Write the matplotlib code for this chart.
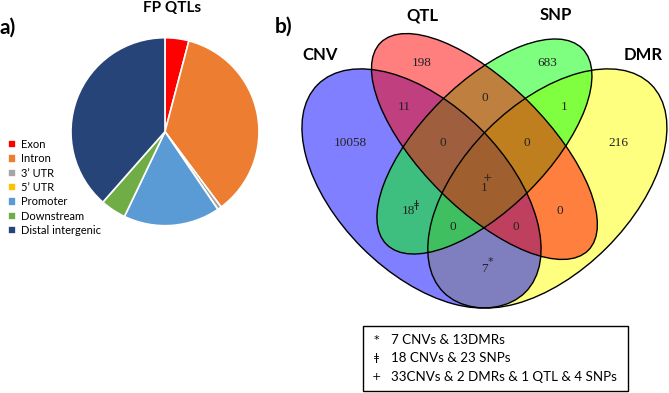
import matplotlib.pyplot as plt
from matplotlib.patches import Ellipse, Rectangle

# a) genomic annotation of FP QTLs (% of QTLs)
pie_labels = ['Exon', 'Intron', '3\u2019 UTR', '5\u2019 UTR', 'Promoter', 'Downstream', 'Distal intergenic']
pie_values = [4.1, 35.7, 0.7, 0.0, 16.6, 4.4, 38.5]
pie_colors = ['#ff0000', '#ed7d31', '#a5a5a5', '#ffc000', '#5b9bd5', '#70ad47', '#264478']

# b) overlap counts between the four sets
set_names = ['CNV', 'QTL', 'SNP', 'DMR']
set_colors = ['#0000ff', '#ff0000', '#00ff00', '#ffff00']
region_keys = ['CNV', 'QTL', 'SNP', 'DMR', 'CNV&QTL', 'QTL&SNP', 'SNP&DMR',
               'CNV&QTL&SNP', 'QTL&SNP&DMR', 'ALL', 'CNV&SNP', 'QTL&DMR',
               'CNV&SNP&DMR', 'CNV&QTL&DMR', 'CNV&DMR']
region_counts = [10058, 198, 683, 216, 11, 0, 1, 0, 0, 1, 18, 0, 0, 0, 7]
note_marks = ['*', '\u01c2', '+']
note_texts = ['7 CNVs & 13DMRs', '18 CNVs & 23 SNPs', '33CNVs & 2 DMRs & 1 QTL & 4 SNPs']

# quad venn layout (x, y, semi-axis a, semi-axis b, angle), unit square
ellipse_geom = {
    'CNV': (0.35, 0.47, 0.35, 0.20, 135),
    'DMR': (0.65, 0.47, 0.35, 0.20, 45),
    'QTL': (0.50, 0.57, 0.35, 0.15, 135),
    'SNP': (0.50, 0.57, 0.33, 0.15, 45),
}
label_pos = {
    'CNV': (0.18, 0.578), 'QTL': (0.35, 0.768), 'SNP': (0.65, 0.768), 'DMR': (0.82, 0.578),
    'CNV&QTL': (0.31, 0.665), 'QTL&SNP': (0.50, 0.686), 'SNP&DMR': (0.69, 0.665),
    'CNV&QTL&SNP': (0.40, 0.578), 'QTL&SNP&DMR': (0.60, 0.578), 'ALL': (0.50, 0.470),
    'CNV&SNP': (0.32, 0.417), 'QTL&DMR': (0.68, 0.417),
    'CNV&SNP&DMR': (0.425, 0.377), 'CNV&QTL&DMR': (0.575, 0.377), 'CNV&DMR': (0.50, 0.277),
}
mark_pos = {'ALL': ('+', 0.508, 0.494), 'CNV&SNP': ('\u01c2', 0.3385, 0.4305), 'CNV&DMR': ('*', 0.515, 0.295)}
name_pos = {'CNV': (0.108, 0.788), 'QTL': (0.353, 0.883), 'SNP': (0.67, 0.883), 'DMR': (0.878, 0.788)}

sans = ['Lato', 'DejaVu Sans']
serif = ['Liberation Serif', 'DejaVu Serif']

fig = plt.figure(figsize=(6.69, 3.93), dpi=100)

# venn axes spans the whole figure, 419.5 px per venn unit
ax = fig.add_axes([0, 0, 1, 1])
ax.set_xlim(-0.6548, 0.9400)
ax.set_ylim(-0.0176, 0.9192)
ax.set_aspect('equal')
ax.axis('off')

# fill order gives the blended colours of the original
for name in ['DMR', 'CNV', 'SNP', 'QTL']:
    x, y, a, b, ang = ellipse_geom[name]
    ax.add_patch(Ellipse((x, y), 2 * a, 2 * b, angle=ang,
                         facecolor=set_colors[set_names.index(name)], alpha=0.5, lw=0))
for name in set_names:
    x, y, a, b, ang = ellipse_geom[name]
    ax.add_patch(Ellipse((x, y), 2 * a, 2 * b, angle=ang, fill=False, edgecolor='black', lw=1))

for key, cnt in zip(region_keys, region_counts):
    x, y = label_pos[key]
    ax.text(x, y, str(cnt), ha='center', va='center', fontsize=9.5, family=serif, color='#222222')
for key, (m, x, y) in mark_pos.items():
    ax.text(x, y, m, ha='center', va='center', fontsize=8, family=['DejaVu Sans'], color='#222222')

for name in set_names:
    x, y = name_pos[name]
    ax.text(x, y, name, ha='center', va='center', fontsize=12, fontweight='bold', family=sans)
ax.text(0.0, 0.855, 'b)', ha='left', va='center', fontsize=15, fontweight='bold', family=sans)

# footnote box
ax.add_patch(Rectangle((0.2112, -0.0129), 0.6317, 0.1557, fill=False, edgecolor='black', lw=1))
for i, (m, t) in enumerate(zip(note_marks, note_texts)):
    yy = 0.1087 - i * 0.0437
    ax.text(0.2415, yy, m, ha='center', va='center', fontsize=8, family=['DejaVu Sans'])
    ax.text(0.2765, yy, t, ha='left', va='center', fontsize=9.6, family=sans)

# pie
ax_p = fig.add_axes([0.1061, 0.4257, 0.281, 0.4784])
wedges, _ = ax_p.pie(pie_values, colors=pie_colors, startangle=90, counterclock=False,
                     wedgeprops=dict(edgecolor='white', linewidth=1.2))
ax_p.set_xlim(-1, 1)
ax_p.set_ylim(-1, 1)
ax_p.set_aspect('equal')

fig.text(0.2571, 0.98, 'FP QTLs', ha='center', va='center', fontsize=11, fontweight='bold', family=sans)
fig.text(0.0, 1 - 28 / 393, 'a)', ha='left', va='center', fontsize=15, fontweight='bold', family=sans)

fig.legend(wedges, pie_labels, loc='upper left', bbox_to_anchor=(0.012, 1 - 139 / 393),
           frameon=False, prop={'family': sans, 'size': 8}, handlelength=0.75, handleheight=0.75,
           handletextpad=0.4, labelspacing=0.3, borderaxespad=0, borderpad=0)

fig.savefig('out.png', dpi=100)
